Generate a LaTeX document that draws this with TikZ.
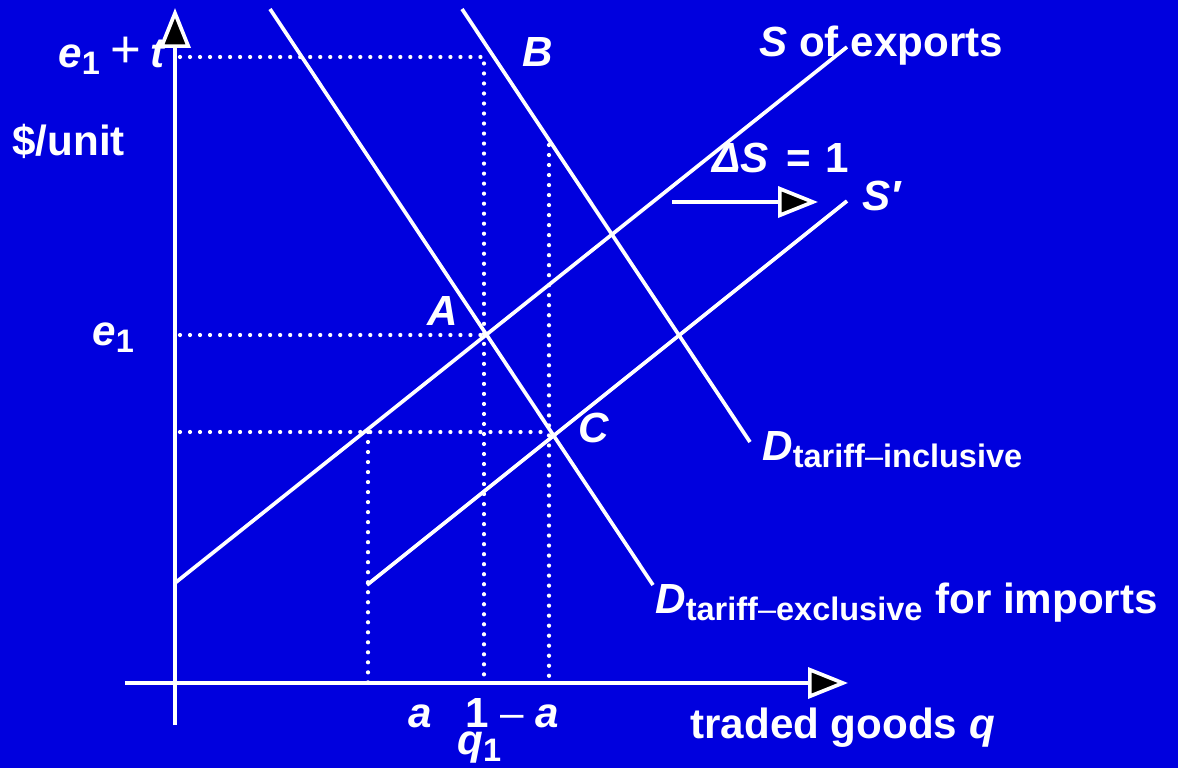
\documentclass[tikz,border=0pt]{standalone}
\usepackage{fontspec}
\setmainfont{Liberation Sans}
\usepackage{tikz}
\usetikzlibrary{arrows.meta}

\definecolor{slideblue}{RGB}{0,0,222}
\newcommand{\lowsub}[1]{\raisebox{-0.15cm}{\fontsize{18.5}{18.5}\selectfont #1}}

\begin{document}
\begin{tikzpicture}[
  x=0.02cm, y=-0.02cm,
  curve/.style={white, line width=2.1pt},
  guide/.style={white, line width=2.4pt, line cap=round, dash pattern=on 0pt off 5.7pt},
  axis/.style={white, line width=2.1pt, -{Triangle[length=0.8cm, width=0.62cm, fill=black]}},
  lbl/.style={text=white, inner sep=0pt, font=\bfseries\fontsize{24}{28}\selectfont}
]
\fill[slideblue] (0,0) rectangle (1178,768);

% axes
\coordinate (ybot) at (175,725);
\coordinate (ytop) at (175,8);
\coordinate (xleft) at (125,683);
\coordinate (xright) at (848,683);

% curves
\coordinate (s0) at (175,583);
\coordinate (s1) at (847,47);
\coordinate (sp0) at (367,585);
\coordinate (sp1) at (847,201);
\coordinate (dx0) at (270,9);
\coordinate (dx1) at (653,585);
\coordinate (di0) at (462,9);
\coordinate (di1) at (750,442);

% guide points
\coordinate (top) at (180,57);
\coordinate (topq) at (484,57);
\coordinate (ptA) at (484,335);
\coordinate (eone) at (180,335);
\coordinate (low) at (180,432);
\coordinate (ptC) at (549,432);
\coordinate (hiq) at (549,145);
\coordinate (qa) at (368,432);
\coordinate (qa0) at (368,683);
\coordinate (q10) at (484,683);
\coordinate (q20) at (549,683);

% shift arrow
\coordinate (sh0) at (672,202);
\coordinate (sh1) at (818,202);

\draw[guide] (top) -- (topq) -- (q10);
\draw[guide] (eone) -- (ptA);
\draw[guide] (low) -- (ptC);
\draw[guide] (hiq) -- (q20);
\draw[guide] (qa) -- (qa0);

\draw[curve] (s0) -- (s1);
\draw[curve] (sp0) -- (sp1);
\draw[curve] (dx0) -- (dx1);
\draw[curve] (di0) -- (di1);

\draw[axis] (ybot) -- (ytop);
\draw[axis] (xleft) -- (xright);
\draw[axis] (sh0) -- (sh1);

% labels
\node[lbl, anchor=base east] (etlbl) at (165,67) {\itshape e\upshape\lowsub{1}\hspace{0.22cm}{\mdseries\fontsize{30}{30}\selectfont+}\hspace{0.18cm}\itshape t};
\node[lbl, anchor=base west] (unitlbl) at (12,155) {\$/unit};
\node[lbl, anchor=base west] (Blbl) at (522,66) {\itshape B};
\node[lbl, anchor=base west] (Slbl) at (759,56) {{\itshape S} of exports};
\node[lbl, anchor=base west] (dSlbl) at (712,172) {{\itshape ΔS}\hspace{0.12cm} = \hspace{0.05cm}1};
\node[lbl, anchor=base west] (Splbl) at (862,210) {\itshape S′};
\node[lbl, anchor=base west] (Albl) at (427,325) {\itshape A};
\node[lbl, anchor=base west] (e1lbl) at (92,345) {\itshape e\upshape\lowsub{1}};
\node[lbl, anchor=base west] (Clbl) at (578,442) {\itshape C};
\node[lbl, anchor=base west] (Dinlbl) at (762,460) {\itshape D\upshape\lowsub{tariff{\mdseries\textendash}inclusive}};
\node[lbl, anchor=base west] (Dexlbl) at (655,613) {\itshape D\upshape\lowsub{tariff{\mdseries\textendash}exclusive}};
\node[lbl, anchor=base west] (implbl) at (935,613) {for imports};
\node[lbl, anchor=base west] (alabel) at (408,727) {\itshape a};
\node[lbl, anchor=base west, text depth=0pt] (onelbl) at (465,727) {1 {\mdseries\textendash} \itshape a};
\node[lbl, anchor=base west, text height=0.4cm] (q1lbl) at (457,754) {\itshape q\upshape\lowsub{1}};
\node[lbl, anchor=base west] (qlbl) at (690,738) {traded goods \itshape q};
\end{tikzpicture}
\end{document}
